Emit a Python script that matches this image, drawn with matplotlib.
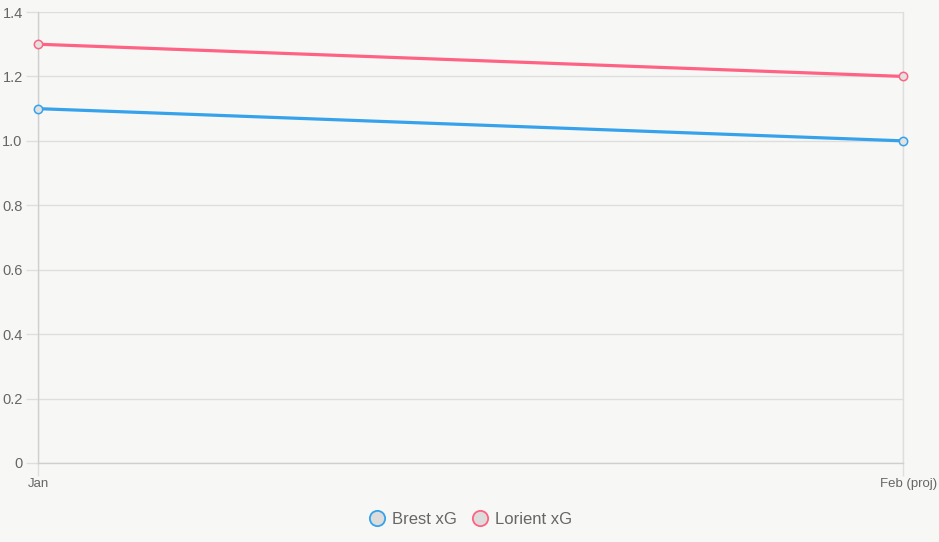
import matplotlib
matplotlib.use("Agg")
import matplotlib.pyplot as plt
import matplotlib.transforms as mtrans
from matplotlib.lines import Line2D

months = ["Jan", "Feb (proj)"]
brest_xg = [1.1, 1.0]
lorient_xg = [1.3, 1.2]
y_ticks = [0, 0.2, 0.4, 0.6, 0.8, 1.0, 1.2, 1.4]
y_labels = ["0", "0.2", "0.4", "0.6", "0.8", "1.0", "1.2", "1.4"]

plt.rcParams["font.family"] = ["Liberation Sans", "DejaVu Sans"]

bg = "#f7f7f5"
grid_c = "#dedede"
text_c = "#666666"
blue = "#36a2eb"
pink = "#ff6384"

fig = plt.figure(figsize=(9.39, 5.42), dpi=100, facecolor=bg)
ax = fig.add_axes([38 / 939, 79 / 542, 865 / 939, 451 / 542])
ax.set_facecolor(bg)

x = list(range(len(months)))
for vals, col, lab in ((brest_xg, blue, "Brest xG"), (lorient_xg, pink, "Lorient xG")):
    ax.plot(x, vals, color=col, linewidth=2.3, label=lab, zorder=3, clip_on=False,
            marker="o", markersize=6, markerfacecolor="#e2e2e2",
            markeredgecolor=col, markeredgewidth=1.1)

ax.set_xlim(0, 1)
ax.set_ylim(0, 1.4)
ax.set_xticks(x)
ax.set_xticklabels(months)
ax.set_yticks(y_ticks)
ax.set_yticklabels(y_labels)

ax.grid(True, color=grid_c, linewidth=1)
ax.axvline(1, color=grid_c, linewidth=1, zorder=0.5, clip_on=False)
ax.set_axisbelow(True)
for s in ("top", "right"):
    ax.spines[s].set_visible(False)
for s in ("left", "bottom"):
    ax.spines[s].set_color("#cfcfcf")
    ax.spines[s].set_linewidth(1)
ax.tick_params(axis="both", colors=grid_c, labelcolor=text_c, length=9, width=1)
ax.tick_params(axis="y", labelsize=10.5, pad=2)
ax.tick_params(axis="x", labelsize=9.5, pad=2)
# last label pulled in so it stays inside the canvas
labels = ax.get_xticklabels()
labels[-1].set_horizontalalignment("right")
labels[-1].set_transform(labels[-1].get_transform()
                         + mtrans.ScaledTranslation(34 / 100, 0, fig.dpi_scale_trans))

handles = [Line2D([], [], linestyle="none", marker="o", markersize=11,
                  markerfacecolor="#dcdcdc", markeredgecolor=c, markeredgewidth=1.3)
           for c in (blue, pink)]
fig.legend(handles, ["Brest xG", "Lorient xG"], loc="center", bbox_to_anchor=(0.5, 23 / 542),
           ncol=2, frameon=False, fontsize=12, labelcolor=text_c,
           handletextpad=0.3, columnspacing=0.8, handlelength=1.2)

fig.savefig("out.png", dpi=100, facecolor=bg)
